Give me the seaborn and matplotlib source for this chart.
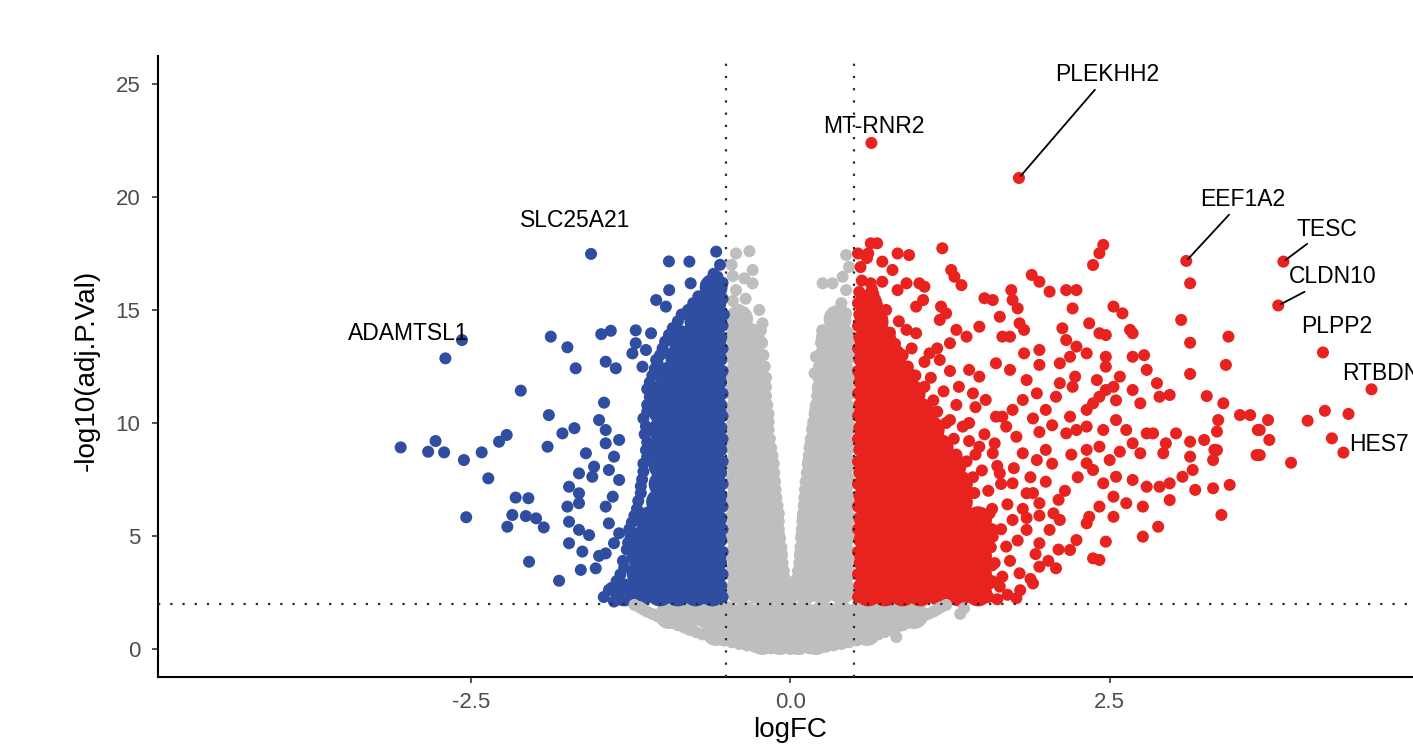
import matplotlib
matplotlib.use("Agg")
import matplotlib.pyplot as plt
import numpy as np
import pandas as pd
import seaborn as sns

# soglie del volcano
lfc_cut = 0.5
p_cut = 2.0  # -log10(0.01)

# geni etichettati
label_genes = ["PLEKHH2", "MT-RNR2", "EEF1A2", "TESC", "CLDN10",
               "PLPP2", "RTBDN", "HES7", "SLC25A21", "ADAMTSL1"]
label_logfc = [1.79, 0.635, 3.10, 3.86, 3.82, 4.17, 4.55, 4.33, -1.56, -2.57]
label_neglogp = [20.84, 22.39, 17.17, 17.14, 15.2, 13.12, 11.49, 8.69, 17.48, 13.67]

# down-regulated, punti sparsi
down_pts = [
    (-2.70, 12.86), (-1.875, 13.82), (-1.745, 13.35), (-1.68, 12.42),
    (-1.48, 13.93), (-1.405, 14.08), (-1.21, 14.1), (-1.09, 13.97),
    (-1.445, 12.71), (-1.366, 12.42), (-2.11, 11.43), (-1.89, 10.35),
    (-1.458, 10.9), (-3.05, 8.92), (-2.777, 9.2), (-2.835, 8.73),
    (-2.71, 8.70), (-2.555, 8.36), (-2.416, 8.70), (-2.28, 9.17),
    (-2.22, 9.47), (-2.364, 7.55), (-1.90, 8.95), (-1.784, 9.54),
    (-1.69, 9.77), (-2.15, 6.70), (-2.05, 6.67), (-2.176, 5.93),
    (-2.215, 5.41), (-2.07, 5.88), (-1.99, 5.78), (-1.93, 5.38),
    (-2.537, 5.83), (-2.045, 3.86), (-1.81, 3.02), (-1.60, 8.66),
    (-1.536, 8.07), (-1.654, 7.77), (-1.732, 7.18), (-1.654, 6.89),
    (-1.55, 7.62), (-1.745, 6.30), (-1.654, 6.45), (-1.732, 5.63),
    (-1.654, 5.27), (-1.575, 5.04), (-1.732, 4.68), (-1.628, 4.31),
    (-1.497, 4.12), (-1.64, 3.50), (-1.523, 3.57), (-1.42, 2.61),
    (-1.445, 9.10), (-1.34, 9.25), (-1.38, 8.51), (-1.42, 7.92),
    (-1.34, 7.48), (-1.497, 10.13), (-1.445, 9.69), (-1.39, 6.74),
    (-1.445, 6.30), (-1.42, 5.56), (-1.34, 5.12), (-1.38, 4.68),
    (-1.445, 4.23), (-1.236, 13.08), (-1.157, 12.49), (-1.05, 12.79),
    (-1.21, 13.53), (-1.13, 13.23), (-1.05, 15.44), (-0.974, 15.15),
    (-0.95, 17.15), (-0.79, 17.14), (-0.58, 17.58), (-0.78, 16.18),
    (-0.948, 15.88), (-0.57, 16.47),
    (-1.46, 2.3), (-1.38, 2.1), (-1.33, 2.4), (-1.36, 3.0), (-1.30, 3.6),
    (-1.28, 4.4), (-1.25, 5.0), (-1.24, 5.6), (-1.2, 6.2), (-1.17, 6.9),
    (-1.16, 7.5), (-1.15, 8.2), (-1.13, 8.8), (-1.14, 9.5), (-1.15, 10.2),
    (-1.12, 10.8), (-1.12, 11.5), (-1.08, 12.1), (-1.04, 12.7), (-1.0, 13.3),
    (-0.95, 13.9), (-0.88, 14.5), (-0.8, 15.0), (-0.72, 15.6), (-0.66, 16.1),
    (-0.6, 16.6), (-0.55, 17.0), (-0.53, 16.2), (-0.53, 15.5), (-0.52, 14.8),
    (-1.40, 2.7), (-1.33, 3.3), (-1.31, 3.9), (-1.27, 4.7), (-1.26, 5.3),
    (-1.22, 5.9), (-1.19, 6.55), (-1.17, 7.2), (-1.15, 7.85), (-1.12, 8.5),
    (-1.12, 9.15), (-1.13, 9.85), (-1.12, 10.5), (-1.10, 11.15), (-1.10, 11.8),
    (-1.06, 12.4), (-1.02, 13.0), (-0.98, 13.6), (-0.92, 14.2), (-0.85, 14.8),
    (-0.76, 15.3),
    (-0.53, 2.3), (-0.54, 2.8), (-0.53, 3.3), (-0.54, 3.8), (-0.53, 4.3),
    (-0.54, 4.8), (-0.53, 5.3), (-0.54, 5.8), (-0.53, 6.3), (-0.54, 6.8),
    (-0.53, 7.3), (-0.54, 7.8), (-0.53, 8.3), (-0.54, 8.8), (-0.53, 9.3),
    (-0.54, 9.8), (-0.53, 10.3), (-0.54, 10.8), (-0.53, 11.3), (-0.54, 11.8),
    (-0.53, 12.3), (-0.54, 12.8), (-0.53, 13.3), (-0.54, 13.8), (-0.53, 14.3),
]

# down-regulated, zona densa (disegnata con marker grandi)
down_dense = [
    (-0.61, 2.5), (-0.74, 2.5), (-0.88, 2.5), (-1.02, 2.5), (-1.17, 2.5), (-1.3, 2.5),
    (-0.61, 3.3), (-0.74, 3.3), (-0.88, 3.3), (-1.02, 3.3), (-1.17, 3.3),
    (-0.61, 4.1), (-0.74, 4.1), (-0.88, 4.1), (-1.02, 4.1), (-1.17, 4.1),
    (-0.61, 4.9), (-0.74, 4.9), (-0.88, 4.9), (-1.02, 4.9), (-1.14, 4.9),
    (-0.61, 5.7), (-0.74, 5.7), (-0.88, 5.7), (-1.02, 5.7), (-1.1, 5.7),
    (-0.61, 6.5), (-0.74, 6.5), (-0.88, 6.5), (-1.02, 6.5),
    (-0.61, 7.3), (-0.74, 7.3), (-0.88, 7.3), (-1.0, 7.3),
    (-0.61, 8.1), (-0.74, 8.1), (-0.88, 8.1), (-1.0, 8.1),
    (-0.61, 8.9), (-0.74, 8.9), (-0.88, 8.9), (-1.0, 8.9),
    (-0.61, 9.7), (-0.74, 9.7), (-0.88, 9.7), (-1.0, 9.7),
    (-0.61, 10.5), (-0.74, 10.5), (-0.88, 10.5), (-1.0, 10.5),
    (-0.61, 11.3), (-0.74, 11.3), (-0.88, 11.3), (-1.0, 11.3),
    (-0.61, 12.1), (-0.74, 12.1), (-0.88, 12.1), (-0.95, 12.1),
    (-0.61, 12.9), (-0.74, 12.9), (-0.87, 12.9),
    (-0.61, 13.7), (-0.74, 13.7), (-0.85, 13.7),
    (-0.61, 14.5), (-0.72, 14.5),
    (-0.61, 15.3), (-0.66, 15.3),
    (-0.6, 16.0),
]

# up-regulated, punti sparsi
up_pts = [
    (0.63, 17.95), (0.68, 17.95), (0.61, 17.5), (0.72, 17.14), (0.84, 17.5),
    (0.93, 17.43), (1.19, 17.73), (0.80, 16.77), (0.63, 16.18), (0.72, 16.25),
    (0.84, 15.88), (0.91, 16.18), (1.01, 16.18), (1.05, 16.03), (1.26, 16.77),
    (1.285, 16.47), (1.34, 16.1), (1.18, 15.15), (1.22, 14.85), (1.04, 15.44),
    (0.985, 15.15), (1.30, 14.12), (1.38, 13.82), (1.25, 13.53), (1.17, 14.56),
    (0.91, 14.12), (0.985, 13.97), (1.09, 13.08), (1.17, 12.79), (1.40, 12.35),
    (1.48, 12.05), (1.61, 12.64), (1.72, 12.35), (1.32, 11.6), (1.43, 11.31),
    (1.53, 11.02), (1.25, 10.13), (1.35, 9.84), (1.61, 10.28), (1.69, 9.84),
    (1.77, 9.39), (1.48, 8.95), (1.585, 8.66), (1.82, 8.66), (1.93, 8.36),
    (2.0, 8.81), (1.64, 7.77), (1.74, 7.33), (1.85, 6.89), (1.95, 6.45),
    (2.06, 6.0), (1.74, 5.71), (1.85, 5.27), (1.585, 4.97), (1.69, 4.53),
    (1.95, 3.64), (2.08, 3.57), (1.795, 3.35), (1.64, 2.76), (1.53, 2.46),
    (1.40, 4.23), (1.48, 3.64),
    (2.45, 17.88), (2.42, 17.51), (2.37, 16.99), (3.13, 16.18), (3.06, 14.56),
    (3.13, 13.55), (3.13, 12.17), (3.43, 13.82), (3.41, 12.57), (3.26, 11.19),
    (3.39, 10.87), (3.52, 10.35), (3.60, 10.35), (3.66, 9.69), (3.65, 8.58),
    (3.35, 10.13), (3.34, 9.62), (3.24, 9.25), (3.13, 9.17), (3.13, 8.51),
    (3.15, 7.92), (3.32, 8.81), (3.31, 8.36), (3.02, 9.54), (2.94, 9.10),
    (2.92, 8.66), (3.07, 7.62), (3.17, 7.04), (3.31, 7.11), (3.44, 7.26),
    (3.375, 5.93), (2.97, 7.33), (2.97, 6.59), (2.88, 5.41), (2.76, 4.97),
    (2.76, 6.30), (2.37, 4.01), (2.42, 3.94), (2.47, 4.75),
    (2.74, 8.66), (2.84, 9.54), (2.68, 9.10), (2.58, 8.73), (2.89, 11.16),
    (2.97, 11.24), (2.87, 11.76), (2.77, 13.0), (2.68, 12.93), (2.79, 12.35),
    (2.68, 11.46), (2.74, 10.87), (2.58, 12.05), (2.47, 12.93), (2.47, 12.49),
    (2.53, 15.15), (2.60, 14.85), (2.66, 14.12), (2.68, 13.97), (2.34, 14.41),
    (2.42, 13.97), (2.47, 13.89), (2.16, 15.88), (2.24, 15.88), (2.21, 15.07),
    (2.13, 14.19), (1.89, 16.55), (1.95, 16.25), (2.03, 15.81), (1.73, 15.88),
    (1.74, 15.44), (1.78, 15.07), (1.52, 15.52), (1.585, 15.44), (1.64, 14.7),
    (1.795, 14.41), (1.83, 14.12), (1.72, 13.82), (1.66, 13.82), (1.48, 14.26),
    (2.16, 13.67), (2.24, 13.38), (2.32, 13.08), (2.19, 12.93), (2.11, 12.64),
    (1.95, 12.57), (1.83, 13.08), (2.47, 11.46), (2.42, 11.16), (2.37, 10.87),
    (2.32, 10.58), (2.23, 12.05), (2.21, 11.6), (2.40, 11.9), (2.53, 11.6),
    (2.55, 11.0), (2.19, 10.28), (2.24, 9.69), (2.16, 9.54), (2.32, 9.84),
    (2.45, 9.69), (2.55, 10.13), (2.63, 9.69), (2.79, 9.54), (2.32, 8.81),
    (2.42, 8.95), (2.50, 8.36), (2.37, 7.92), (2.45, 7.33), (2.32, 8.22),
    (2.55, 7.62), (2.68, 7.48), (2.79, 7.18), (2.89, 7.18), (2.53, 6.74),
    (2.63, 6.45), (2.53, 5.85), (2.42, 6.30), (2.34, 5.85), (2.32, 5.56),
    (2.24, 4.82), (2.19, 4.38), (2.11, 5.71), (2.03, 5.27), (1.95, 4.68),
    (1.95, 13.23), (1.85, 11.9), (1.93, 11.31), (2.0, 10.58), (2.08, 11.16),
    (2.11, 11.76), (1.82, 11.02), (1.74, 10.58), (1.66, 10.28),
    (4.185, 10.54), (4.37, 10.4), (4.05, 10.1), (4.24, 9.32), (3.92, 8.24),
    (3.74, 10.13), (3.675, 9.69), (3.75, 9.25), (3.675, 8.58), (3.34, 8.8),
    (1.55, 2.3), (1.62, 2.2), (1.7, 2.4), (1.77, 2.25), (1.58, 3.0),
    (1.52, 3.4), (1.66, 3.2), (1.6, 3.8), (1.72, 3.9), (1.55, 4.5),
    (1.65, 5.3), (1.78, 4.8), (1.5, 5.6), (1.58, 6.2), (1.7, 6.4),
    (1.82, 6.2), (1.55, 7.0), (1.65, 7.3), (1.5, 7.9), (1.62, 8.1),
    (1.75, 8.0), (1.45, 8.6), (1.4, 9.2), (1.52, 9.5), (1.6, 9.1),
    (1.4, 10.0), (1.45, 10.7), (1.3, 10.8), (1.2, 11.4), (1.1, 12.0),
    (1.25, 12.3), (1.05, 12.7), (1.15, 13.3), (0.95, 13.3), (0.85, 14.5),
    (0.75, 15.0), (0.65, 15.7), (0.56, 16.3), (0.55, 16.9), (0.6, 17.3),
    (0.53, 17.5), (1.88, 7.6), (1.9, 6.9), (2.0, 7.4), (2.05, 8.2),
    (1.95, 9.6), (2.05, 9.9), (1.9, 10.2), (1.85, 5.8), (1.95, 5.9),
    (2.1, 6.6), (2.15, 7.0), (2.25, 7.6), (2.2, 8.6), (1.92, 4.2),
    (2.02, 3.9), (1.88, 3.1), (2.1, 4.4), (1.8, 2.6), (1.9, 2.9),
    (1.56, 2.9), (1.58, 3.7), (1.57, 4.5), (1.58, 5.3), (1.56, 6.0),
    (1.44, 6.9), (1.43, 7.6), (1.38, 8.3), (1.30, 8.6), (1.28, 9.3),
    (1.22, 10.0), (1.15, 10.5), (1.12, 11.0), (1.05, 11.6), (0.98, 12.1),
    (0.92, 12.5), (0.88, 13.0), (0.82, 13.5), (0.78, 14.0), (0.72, 14.4),
    (0.68, 15.2), (0.64, 15.9),
    (0.53, 2.3), (0.54, 2.8), (0.53, 3.3), (0.54, 3.8), (0.53, 4.3),
    (0.54, 4.8), (0.53, 5.3), (0.54, 5.8), (0.53, 6.3), (0.54, 6.8),
    (0.53, 7.3), (0.54, 7.8), (0.53, 8.3), (0.54, 8.8), (0.53, 9.3),
    (0.54, 9.8), (0.53, 10.3), (0.54, 10.8), (0.53, 11.3), (0.54, 11.8),
    (0.53, 12.3), (0.54, 12.8), (0.53, 13.3), (0.54, 13.8), (0.53, 14.3),
    (0.54, 14.8), (0.53, 15.3), (0.54, 15.8),
]

# up-regulated, zona densa
up_dense = [
    (0.61, 2.5), (0.74, 2.5), (0.88, 2.5), (1.02, 2.5), (1.17, 2.5), (1.32, 2.5), (1.47, 2.5),
    (0.61, 3.3), (0.74, 3.3), (0.88, 3.3), (1.02, 3.3), (1.17, 3.3), (1.32, 3.3), (1.47, 3.3),
    (0.61, 4.1), (0.74, 4.1), (0.88, 4.1), (1.02, 4.1), (1.17, 4.1), (1.32, 4.1), (1.47, 4.1),
    (0.61, 4.9), (0.74, 4.9), (0.88, 4.9), (1.02, 4.9), (1.17, 4.9), (1.32, 4.9), (1.47, 4.9),
    (0.61, 5.7), (0.74, 5.7), (0.88, 5.7), (1.02, 5.7), (1.17, 5.7), (1.32, 5.7), (1.47, 5.7),
    (0.61, 6.5), (0.74, 6.5), (0.88, 6.5), (1.02, 6.5), (1.17, 6.5), (1.32, 6.5),
    (0.61, 7.3), (0.74, 7.3), (0.88, 7.3), (1.02, 7.3), (1.17, 7.3), (1.32, 7.3),
    (0.61, 8.1), (0.74, 8.1), (0.88, 8.1), (1.02, 8.1), (1.17, 8.1), (1.27, 8.1),
    (0.61, 8.9), (0.74, 8.9), (0.88, 8.9), (1.02, 8.9), (1.17, 8.9),
    (0.61, 9.7), (0.74, 9.7), (0.88, 9.7), (1.02, 9.7), (1.1, 9.7),
    (0.61, 10.5), (0.74, 10.5), (0.88, 10.5), (1.02, 10.5),
    (0.61, 11.3), (0.74, 11.3), (0.88, 11.3), (0.95, 11.3),
    (0.61, 12.1), (0.74, 12.1), (0.87, 12.1),
    (0.61, 12.9), (0.74, 12.9), (0.8, 12.9),
    (0.61, 13.7), (0.72, 13.7),
    (0.61, 14.5), (0.66, 14.5),
    (0.61, 15.3),
]

# non significativi, punti sparsi
ns_pts = [
    (-1.22, 1.95), (-1.15, 1.75), (-1.08, 1.55), (-1.0, 1.35), (-0.92, 1.15),
    (-0.83, 0.95), (-0.74, 0.75), (-0.63, 0.55), (-0.52, 0.38), (-0.4, 0.22),
    (-0.28, 0.1), (-0.15, 0.03), (0.0, 0.0), (0.15, 0.03), (0.28, 0.1),
    (0.4, 0.22), (0.52, 0.38), (0.63, 0.55), (0.74, 0.75), (0.83, 0.95),
    (0.92, 1.15), (1.0, 1.35), (1.08, 1.55), (1.15, 1.75), (1.22, 1.95),
    (-1.18, 1.85), (-1.12, 1.65), (-1.04, 1.45), (-0.96, 1.25), (-0.88, 1.05),
    (-0.79, 0.85), (-0.69, 0.65), (-0.58, 0.46), (-0.46, 0.3), (-0.34, 0.16),
    (-0.22, 0.06), (-0.08, 0.01), (0.08, 0.01), (0.22, 0.06), (0.34, 0.16),
    (0.46, 0.3), (0.58, 0.46), (0.69, 0.65), (0.79, 0.85), (0.88, 1.05),
    (0.96, 1.25), (1.04, 1.45), (1.12, 1.65), (1.18, 1.85),
    (0.83, 0.53), (1.33, 1.55), (1.36, 1.8),
    (0.0, 2.1), (-0.05, 2.4), (0.05, 2.4),
    (-0.23, 14.1), (-0.21, 13.0), (-0.19, 12.0), (-0.19, 11.2), (-0.17, 10.4),
    (-0.17, 9.7), (-0.15, 8.9), (-0.13, 8.2), (-0.12, 7.4), (-0.11, 6.7),
    (-0.09, 6.0), (-0.09, 5.3), (-0.07, 4.5), (-0.06, 3.8), (-0.04, 3.1),
    (-0.03, 2.6),
    (-0.22, 13.55), (-0.20, 12.5), (-0.19, 11.6), (-0.18, 10.8), (-0.17, 10.05),
    (-0.16, 9.3), (-0.14, 8.55), (-0.125, 7.8), (-0.115, 7.05), (-0.10, 6.35),
    (-0.09, 5.65), (-0.08, 4.9), (-0.065, 4.15), (-0.05, 3.45), (-0.035, 2.85),
    (0.25, 14.1), (0.23, 13.0), (0.22, 12.0), (0.21, 11.2), (0.19, 10.4),
    (0.17, 9.7), (0.15, 8.9), (0.14, 8.2), (0.12, 7.4), (0.11, 6.7),
    (0.10, 6.0), (0.09, 5.3), (0.08, 4.5), (0.07, 3.8), (0.05, 3.1),
    (0.03, 2.6),
    (0.24, 13.55), (0.225, 12.5), (0.215, 11.6), (0.2, 10.8), (0.18, 10.05),
    (0.16, 9.3), (0.145, 8.55), (0.13, 7.8), (0.115, 7.05), (0.105, 6.35),
    (0.095, 5.65), (0.085, 4.9), (0.075, 4.15), (0.06, 3.45), (0.04, 2.85),
    (-0.425, 17.5), (-0.32, 17.6), (-0.295, 16.77), (-0.295, 16.18), (-0.425, 15.88),
    (-0.4, 15.0), (-0.243, 15.0), (-0.217, 14.41), (-0.45, 16.5), (-0.46, 17.0),
    (-0.36, 16.4), (-0.35, 15.5), (-0.45, 15.4),
    (0.437, 17.43), (0.253, 16.18), (0.33, 16.18), (0.41, 16.47), (0.437, 15.88),
    (0.437, 14.85), (0.33, 14.26), (0.253, 13.82), (0.2, 12.93), (0.19, 12.2),
    (0.46, 16.9), (0.4, 15.3),
]

# non significativi, zona densa
ns_dense = [
    (-0.40, 2.6), (-0.25, 2.6), (-0.12, 2.6), (0.12, 2.6), (0.25, 2.6), (0.40, 2.6),
    (-0.40, 3.4), (-0.25, 3.4), (-0.12, 3.4), (0.13, 3.4), (0.25, 3.4), (0.40, 3.4),
    (-0.40, 4.2), (-0.25, 4.2), (-0.13, 4.2), (0.14, 4.2), (0.25, 4.2), (0.40, 4.2),
    (-0.40, 5.0), (-0.25, 5.0), (-0.15, 5.0), (0.15, 5.0), (0.26, 5.0), (0.40, 5.0),
    (-0.40, 5.8), (-0.25, 5.8), (-0.16, 5.8), (0.16, 5.8), (0.27, 5.8), (0.40, 5.8),
    (-0.40, 6.6), (-0.25, 6.6), (-0.18, 6.6), (0.18, 6.6), (0.28, 6.6), (0.40, 6.6),
    (-0.40, 7.4), (-0.26, 7.4), (-0.19, 7.4), (0.19, 7.4), (0.29, 7.4), (0.40, 7.4),
    (-0.40, 8.2), (-0.27, 8.2), (-0.20, 8.2), (0.20, 8.2), (0.30, 8.2), (0.40, 8.2),
    (-0.40, 9.0), (-0.25, 9.0), (0.22, 9.0), (0.31, 9.0), (0.40, 9.0),
    (-0.40, 9.8), (-0.25, 9.8), (0.24, 9.8), (0.40, 9.8),
    (-0.40, 10.6), (-0.26, 10.6), (0.26, 10.6), (0.40, 10.6),
    (-0.40, 11.4), (-0.27, 11.4), (0.28, 11.4), (0.40, 11.4),
    (-0.40, 12.2), (-0.28, 12.2), (0.29, 12.2), (0.40, 12.2),
    (-0.40, 13.0), (-0.30, 13.0), (0.30, 13.0), (0.40, 13.0),
    (-0.40, 13.8), (-0.31, 13.8), (0.31, 13.8), (0.40, 13.8),
    (-0.40, 14.6), (0.37, 14.6),
    (-0.95, 1.5), (-0.8, 1.5), (-0.65, 1.5), (-0.5, 1.5), (-0.35, 1.5), (-0.2, 1.5),
    (-0.05, 1.5), (0.1, 1.5), (0.25, 1.5), (0.4, 1.5), (0.55, 1.5), (0.7, 1.5),
    (0.85, 1.5), (0.97, 1.5),
    (-0.58, 0.75), (-0.43, 0.75), (-0.28, 0.75), (-0.13, 0.75), (0.02, 0.75),
    (0.17, 0.75), (0.32, 0.75), (0.47, 0.75), (0.6, 0.75),
    (-0.22, 0.35), (-0.08, 0.35), (0.06, 0.35), (0.2, 0.35),
]


def to_frame(pts, dense):
    df = pd.DataFrame(pts, columns=["logFC", "negLogP"])
    df["dense"] = dense
    return df


def classify(df):
    up = (df["negLogP"] > p_cut) & (df["logFC"] > lfc_cut)
    down = (df["negLogP"] > p_cut) & (df["logFC"] < -lfc_cut)
    df["group"] = np.where(up, "Up", np.where(down, "Down", "NS"))
    return df


sns.set_style("ticks")
plt.rcParams["font.family"] = ["Liberation Sans", "DejaVu Sans"]
plt.rcParams["axes.unicode_minus"] = False

lab_df = pd.DataFrame({"logFC": label_logfc, "negLogP": label_neglogp, "dense": False})
df = pd.concat([to_frame(ns_dense, True), to_frame(ns_pts, False),
                to_frame(down_dense, True), to_frame(down_pts, False),
                to_frame(up_dense, True), to_frame(up_pts, False), lab_df],
               ignore_index=True)
df = classify(df)
order = {"NS": 0, "Down": 1, "Up": 2}
df = df.sort_values("group", key=lambda s: s.map(order), kind="stable")

palette = {"NS": "#BEBEBE", "Down": "#2F4EA2", "Up": "#E8231F"}

fig = plt.figure(figsize=(14.13, 7.53), dpi=100)
ax = fig.add_axes([0.1118, 0.1006, 0.895, 0.8254])

# prima la zona densa (marker grandi), poi i punti singoli
sns.scatterplot(data=df[df["dense"]], x="logFC", y="negLogP", hue="group",
                palette=palette, s=400, linewidth=0, legend=False, ax=ax, zorder=2)
sns.scatterplot(data=df[~df["dense"]], x="logFC", y="negLogP", hue="group",
                palette=palette, s=75, linewidth=0, legend=False, ax=ax, zorder=2)

# linee di soglia
dot = (0, (1, 4.5))
ax.axvline(-lfc_cut, color="#2a2a2a", lw=1.6, ls=dot, zorder=3)
ax.axvline(lfc_cut, color="#2a2a2a", lw=1.6, ls=dot, zorder=3)
ax.axhline(p_cut, color="#2a2a2a", lw=1.6, ls=dot, zorder=3)

# etichette dei geni
label_pos = {
    "PLEKHH2": (2.484, 25.40, "center"),
    "MT-RNR2": (0.650, 23.14, "center"),
    "EEF1A2": (3.542, 19.87, "center"),
    "TESC": (4.201, 18.58, "center"),
    "CLDN10": (4.248, 16.46, "center"),
    "PLPP2": (4.279, 14.29, "center"),
    "RTBDN": (4.318, 12.17, "left"),
    "HES7": (4.373, 9.03, "left"),
    "SLC25A21": (-1.685, 18.94, "center"),
    "ADAMTSL1": (-2.994, 13.98, "center"),
}
with_segment = ["PLEKHH2", "EEF1A2", "TESC", "CLDN10"]

for gene, gx, gy in zip(label_genes, label_logfc, label_neglogp):
    tx, ty, ha = label_pos[gene]
    arrow = None
    if gene in with_segment:
        arrow = dict(arrowstyle="-", color="black", lw=1.3, shrinkA=0, shrinkB=2)
    ax.annotate(gene, xy=(gx, gy), xytext=(tx, ty), textcoords="data",
                ha=ha, va="center", fontsize=16.5, color="black",
                arrowprops=arrow, zorder=4)

# assi
ax.set_xlim(-4.95, 4.95)
ax.set_ylim(-1.25, 26.25)
ax.set_xticks([-2.5, 0, 2.5])
ax.set_xticklabels(["-2.5", "0.0", "2.5"])
ax.set_yticks([0, 5, 10, 15, 20, 25])
ax.set_yticklabels(["0", "5", "10", "15", "20", "25"])
ax.tick_params(axis="both", length=4.5, width=1.2, color="#333333",
               labelsize=16, labelcolor="#4D4D4D", pad=6, direction="out")
ax.tick_params(axis="y", pad=8)

sns.despine(ax=ax)
for side in ["left", "bottom"]:
    ax.spines[side].set_linewidth(1.5)
    ax.spines[side].set_color("black")

ax.set_xlabel("logFC", fontsize=20, color="black")
ax.set_ylabel("-log10(adj.P.Val)", fontsize=20, color="black")
ax.xaxis.set_label_coords(0.5, -0.064)
ax.yaxis.set_label_coords(-0.0459, 0.494)

fig.savefig("out.png", dpi=100)
